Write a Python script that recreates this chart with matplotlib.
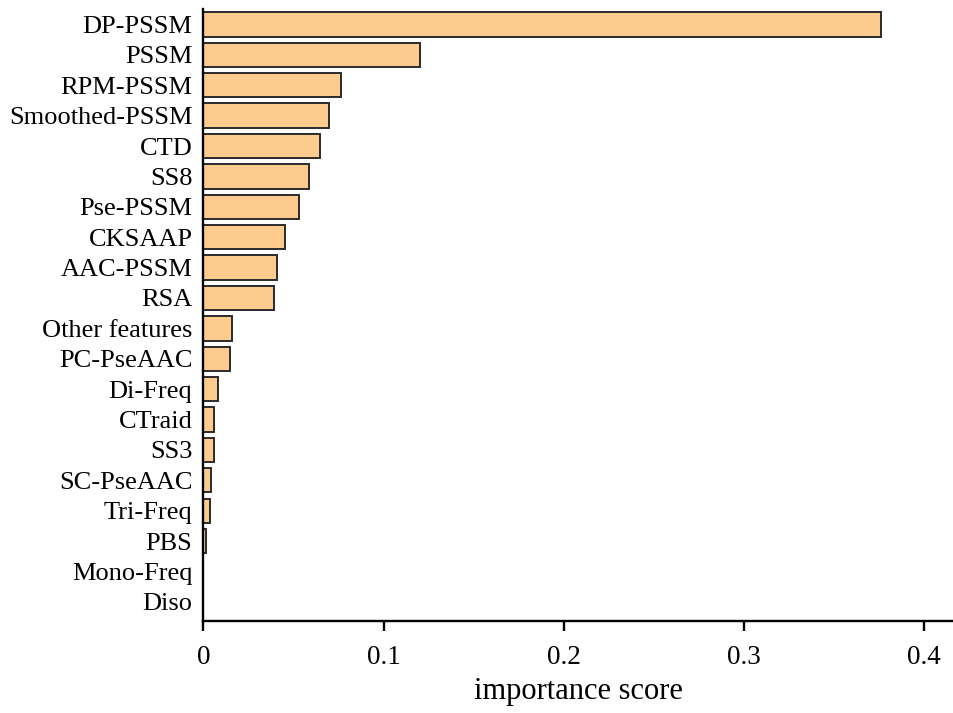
import matplotlib
matplotlib.use('Agg')
import matplotlib.pyplot as plt

# Tên đặc trưng và điểm quan trọng
features = ['DP-PSSM', 'PSSM', 'RPM-PSSM', 'Smoothed-PSSM', 'CTD', 'SS8',
            'Pse-PSSM', 'CKSAAP', 'AAC-PSSM', 'RSA', 'Other features',
            'PC-PseAAC', 'Di-Freq', 'CTraid', 'SS3', 'SC-PseAAC', 'Tri-Freq',
            'PBS', 'Mono-Freq', 'Diso']
scores = [0.376, 0.120, 0.0766, 0.0696, 0.0649, 0.0587, 0.0532, 0.0450,
          0.0410, 0.0394, 0.0161, 0.0146, 0.0078, 0.0059, 0.0056, 0.0041,
          0.0035, 0.0016, 0.0, 0.0]
xticks = [0, 0.1, 0.2, 0.3, 0.4]
xtick_labels = ['0', '0.1', '0.2', '0.3', '0.4']

plt.rcParams['font.family'] = ['Liberation Serif', 'DejaVu Serif']

fig = plt.figure(figsize=(9.54, 7.13), dpi=100)
ax = fig.add_axes([0.2133, 0.129, 0.7867, 0.858])

pos = list(range(len(features)))
ax.barh(pos, scores, height=0.8, color='#FDCB8E', edgecolor='#2b2b2b',
        linewidth=1.4)

ax.set_ylim(19.63, -0.5)
ax.set_xlim(0, 0.4168)
ax.set_yticks(pos)
ax.set_yticklabels(features, fontsize=19)
ax.set_xticks(xticks)
ax.set_xticklabels(xtick_labels, fontsize=19.5)
ax.set_xlabel('importance score', fontsize=22, labelpad=5)

ax.spines['top'].set_visible(False)
ax.spines['right'].set_visible(False)
ax.spines['left'].set_linewidth(1.7)
ax.spines['bottom'].set_linewidth(1.7)
ax.tick_params(axis='y', length=0, pad=8)
ax.tick_params(axis='x', length=7, width=1.7, pad=10, direction='out')

plt.savefig('out.png', dpi=100)
plt.close()
